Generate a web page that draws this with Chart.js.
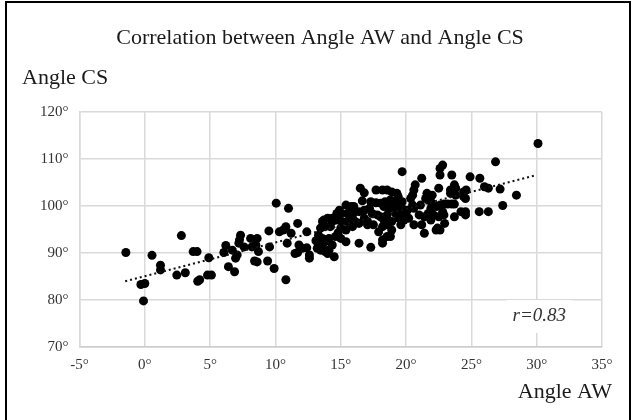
<!DOCTYPE html>
<html><head><meta charset="utf-8">
<script src="https://cdn.jsdelivr.net/npm/chart.js@4.4.1/dist/chart.umd.min.js"></script>
<style>
html,body{margin:0;padding:0;background:#fff;overflow:hidden}
#wrap{position:relative;width:633px;height:420px}
#frame{position:absolute;left:5px;top:1px;width:622px;height:440px;border:2px solid #000;border-bottom:none;pointer-events:none}
</style></head>
<body><div id="wrap"><canvas id="c" width="633" height="420"></canvas><div id="frame"></div></div>
<script>
const chartTitle = 'Correlation between Angle AW and Angle CS';
const xAxisLabel = 'Angle AW';
const yAxisLabel = 'Angle CS';
const rText = 'r=0.83';
const xTicks = [-5, 0, 5, 10, 15, 20, 25, 30, 35];
const yTicks = [70, 80, 90, 100, 110, 120];

const angleAW = [-1.45,0.55,2.8,1.2,1.2,2.45,3.1,-0.3,0.0,-0.1,3.7,4.0,4.2,4.05,4.8,5.1,4.9,6.2,6.05,6.4,6.87,6.7,7.33,7.25,7.2,7.07,6.95,7.6,8.1,8.2,8.5,8.4,8.7,8.6,8.6,9.4,9.5,9.55,10.06,11.0,9.9,10.8,10.3,10.6,10.8,11.2,10.9,11.7,11.8,11.7,12.05,12.4,12.6,11.5,12.4,13.1,13.2,13.45,13.6,13.3,13.7,12.6,14.0,14.5,14.35,14.7,14.6,16.5,16.8,17.7,18.2,16.65,17.3,17.7,18.05,15.4,15.8,16.0,14.9,15.0,15.5,16.0,16.4,16.8,17.2,17.4,17.8,18.05,16.8,17.05,13.7,14.0,14.35,14.7,15.1,15.5,15.9,16.1,16.4,17.05,17.5,13.45,13.8,14.2,15.0,15.4,15.9,13.6,14.1,15.0,15.4,13.7,14.35,13.45,13.8,14.1,16.4,17.3,17.9,18.2,14.8,19.7,21.2,20.7,20.6,18.55,18.9,19.3,19.4,20.5,20.35,18.4,18.8,19.3,19.7,21.6,22.0,21.5,21.9,22.5,22.6,22.6,18.3,18.7,19.1,19.45,19.7,20.1,20.5,20.6,21.1,21.9,22.3,22.6,18.55,19.2,19.6,19.95,21.0,21.4,21.7,22.1,22.5,22.8,18.3,18.9,19.45,19.85,20.2,21.9,18.2,18.55,19.6,20.6,21.2,21.4,22.3,22.6,18.9,18.55,18.8,18.2,26.85,22.8,23.5,24.9,25.65,23.7,23.4,23.8,24.6,24.4,26.0,26.3,27.2,28.45,23.4,23.8,24.4,24.55,22.9,23.2,23.5,23.7,22.9,23.7,24.2,24.55,24.55,25.6,26.3,27.4,22.95,30.1,22.4];
const angleCS = [90.1,89.5,93.7,87.4,86.4,85.3,85.8,83.3,83.5,79.8,90.3,90.3,84.3,84.0,85.3,85.3,89.0,91.6,90.1,87.1,86.0,90.6,93.8,92.8,92.1,89.6,88.9,91.3,93.1,91.3,91.7,88.3,90.3,93.1,88.1,88.3,94.7,91.3,100.6,99.5,86.7,84.3,94.5,94.9,95.6,94.2,92.1,96.3,91.7,90.1,91.0,91.1,89.6,89.9,94.5,92.6,91.0,91.3,96.7,93.8,92.8,88.9,89.9,89.2,97.4,98.4,93.5,103.8,102.8,103.4,103.4,101.1,100.9,100.7,100.6,100.2,99.9,99.9,99.1,98.4,98.4,98.6,98.8,99.1,99.5,98.4,98.1,97.7,97.4,96.7,97.0,97.4,96.7,97.0,96.7,96.7,97.4,96.7,96.3,96.0,96.0,95.3,95.6,95.6,95.3,94.9,95.6,93.1,93.1,93.1,92.4,92.1,91.7,90.6,90.3,90.6,92.1,91.2,94.5,92.8,94.3,107.3,105.9,104.5,103.4,103.4,103.0,102.7,102.0,102.3,101.6,100.9,101.3,100.9,100.9,102.7,102.3,101.6,100.9,103.8,108.0,106.6,99.9,99.5,99.9,99.5,99.5,99.1,100.2,99.5,100.2,99.5,99.9,100.2,98.1,98.4,98.4,98.1,98.1,97.7,98.4,98.1,97.7,98.8,97.0,96.7,97.4,97.0,97.4,97.0,95.6,96.0,96.0,96.0,96.0,94.2,94.9,94.9,94.9,93.5,93.5,92.1,109.4,108.7,106.6,106.2,105.9,104.5,103.4,103.8,103.4,103.0,104.1,103.8,103.6,102.3,102.7,102.3,102.0,101.6,100.4,100.4,100.4,100.4,98.1,97.7,98.8,98.8,98.1,98.8,98.8,100.1,96.3,113.3,95.3];
const trendAW = [-1.5, 30];
const trendCS = [84.0, 106.6];

const serif = "'Liberation Serif', 'Times New Roman', serif";

const scatterData = angleAW.map((v, i) => ({x: v, y: angleCS[i]}));
const trendData = trendAW.map((v, i) => ({x: v, y: trendCS[i]}));

const annot = {
  id: 'annot',
  beforeDatasetsDraw(chart) {
    const {ctx, scales: {x, y}} = chart;
    const cx = x.getPixelForValue(30.2), cy = y.getPixelForValue(76.6);
    ctx.save();
    ctx.fillStyle = '#fff';
    ctx.fillRect(cx - 33, cy - 16, 66, 33);
    ctx.fillStyle = '#333';
    ctx.font = 'italic 19px ' + serif;
    ctx.textAlign = 'center';
    ctx.textBaseline = 'middle';
    ctx.fillText(rText, cx, cy);
    ctx.restore();
  },
  afterDraw(chart) {
    const {ctx, chartArea: a} = chart;
    ctx.save();
    ctx.fillStyle = '#1a1a1a';
    ctx.font = '22px ' + serif;
    ctx.textBaseline = 'middle';
    ctx.textAlign = 'left';
    ctx.fillText(yAxisLabel, a.left - 57.5, a.top - 34);
    ctx.textAlign = 'right';
    ctx.fillText(xAxisLabel, a.right + 10, a.bottom + 45);
    ctx.restore();
  }
};

new Chart(document.getElementById('c'), {
  type: 'scatter',
  data: {
    datasets: [
      {
        label: 'Angle CS',
        data: scatterData,
        backgroundColor: '#000',
        borderWidth: 0,
        pointRadius: 4.5,
        pointHoverRadius: 4.5,
        order: 2
      },
      {
        type: 'line',
        label: 'Trend',
        data: trendData,
        borderColor: '#111',
        borderWidth: 2,
        borderDash: [2, 3],
        pointRadius: 0,
        fill: false,
        showLine: true,
        order: 1
      }
    ]
  },
  options: {
    responsive: false,
    devicePixelRatio: 1,
    animation: false,
    layout: {padding: {left: 38, right: 31, top: 0, bottom: 0}},
    plugins: {
      legend: {display: false},
      tooltip: {enabled: false},
      title: {
        display: true,
        text: chartTitle,
        color: '#1a1a1a',
        font: {family: serif, size: 22, weight: 'normal'},
        padding: {top: 25, bottom: 60.6}
      }
    },
    scales: {
      x: {
        type: 'linear',
        min: -5, max: 35,
        afterBuildTicks: axis => { axis.ticks = xTicks.map(v => ({value: v})); },
        afterFit: s => { s.height = 73; },
        ticks: {callback: v => v + '°', color: '#333', font: {family: serif, size: 15}, padding: 9},
        grid: {color: '#d9d9d9', lineWidth: 1.5, drawTicks: false},
        border: {color: '#cccccc', width: 1.5}
      },
      y: {
        type: 'linear',
        min: 70, max: 120,
        afterBuildTicks: axis => { axis.ticks = yTicks.map(v => ({value: v})); },
        afterFit: s => { s.width = 41.5; },
        ticks: {callback: v => v + '°', color: '#333', font: {family: serif, size: 15}, padding: 11},
        grid: {color: '#d9d9d9', lineWidth: 1.5, drawTicks: false},
        border: {color: '#d9d9d9', width: 1.5}
      }
    }
  },
  plugins: [annot]
});
</script>
</body></html>
